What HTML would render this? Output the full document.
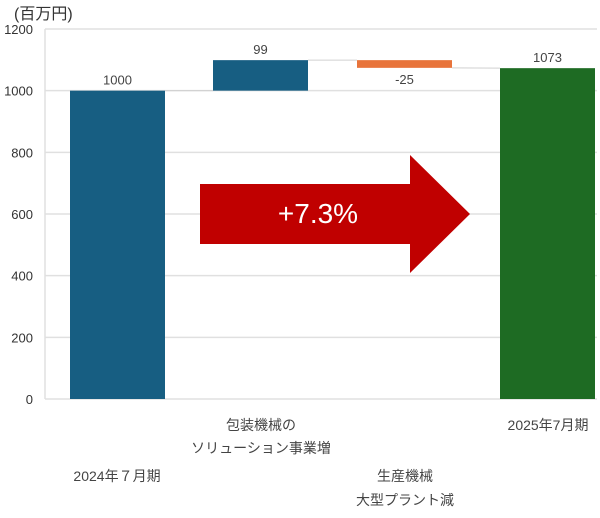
<!DOCTYPE html>
<html><head><meta charset="utf-8"><style>
body{margin:0;background:#fff}
svg text{font-family:"Liberation Sans","Noto Sans CJK JP",sans-serif}
</style></head><body>
<svg width="600" height="513">
<g id="grid"></g><g id="bars"></g><g id="labels"></g>
<text x="14" y="19" font-size="16" fill="#333">(百万円)</text>
<g>
<polygon points="200,184 410,184 410,155 470,214 410,273 410,244 200,244" fill="#c00000"/>
<text x="318" y="223" font-size="28" fill="#fff" text-anchor="middle">+7.3%</text>
</g>
<g font-size="14" fill="#444" text-anchor="middle">
<text x="261" y="430">包装機械の</text>
<text x="261" y="453">ソリューション事業増</text>
<text x="117" y="481">2024年７月期</text>
<text x="405" y="481">生産機械</text>
<text x="405" y="505">大型プラント減</text>
<text x="548" y="430">2025年7月期</text>
</g>
</svg>
<script>
const categories=["2024年7月期","包装機械増","生産機械減","2025年7月期"];
const deltas=[1000,99,-25,1073];
const labelsTxt=["1000","99","-25","1073"];
const ticks=[0,200,400,600,800,1000,1200];
const NS="http://www.w3.org/2000/svg";
const y=v=>399-v*(370/1200);
const x0=45,xr=597,bx=[70,213,357,500],bw=95;
const colors=["#175e82","#175e82","#e8743b","#1e6b23"];
function mk(t,a,p){const e=document.createElementNS(NS,t);for(const k in a)e.setAttribute(k,a[k]);p.appendChild(e);return e;}
const grid=document.getElementById('grid'),bars=document.getElementById('bars'),lab=document.getElementById('labels');
ticks.forEach(t=>{
 const l=mk('line',{x1:x0,x2:xr,y1:y(t),y2:y(t),stroke:'#e0e0e0','stroke-width':1.5},grid);
 
 
 const tx=mk('text',{x:33,y:y(t)+5,'font-size':13,fill:'#333','text-anchor':'end'},grid);
 tx.textContent=t;
 
 
});
mk('line',{x1:x0,x2:x0,y1:y(1200),y2:y(0),stroke:'#e0e0e0','stroke-width':1.5},grid);
let run=0,prevTop=null;
deltas.forEach((d,i)=>{
 let lo,hi;
 if(i===0||i===deltas.length-1){lo=0;hi=d;run=d;}
 else{const s=run;run=s+d;lo=Math.min(s,run);hi=Math.max(s,run);}
 if(prevTop!==null){const cl=mk('line',{x1:bx[i-1]+bw,x2:bx[i],y1:y(prevTop),y2:y(i===deltas.length-1?d:(d>0?run-d:run-d)),stroke:'#d0d0d0','stroke-width':1},grid);}
 const r=mk('rect',{x:bx[i],y:y(hi),width:bw,height:y(lo)-y(hi),fill:colors[i]},bars);
 
 
 const ly=d<0?y(lo)+16:y(hi)-6;
 const t=mk('text',{x:bx[i]+bw/2,y:ly,'font-size':13,fill:'#444','text-anchor':'middle'},lab);
 t.textContent=labelsTxt[i];
 
 
 prevTop=(i===deltas.length-1)?d:run;
});
</script>
</body></html>
